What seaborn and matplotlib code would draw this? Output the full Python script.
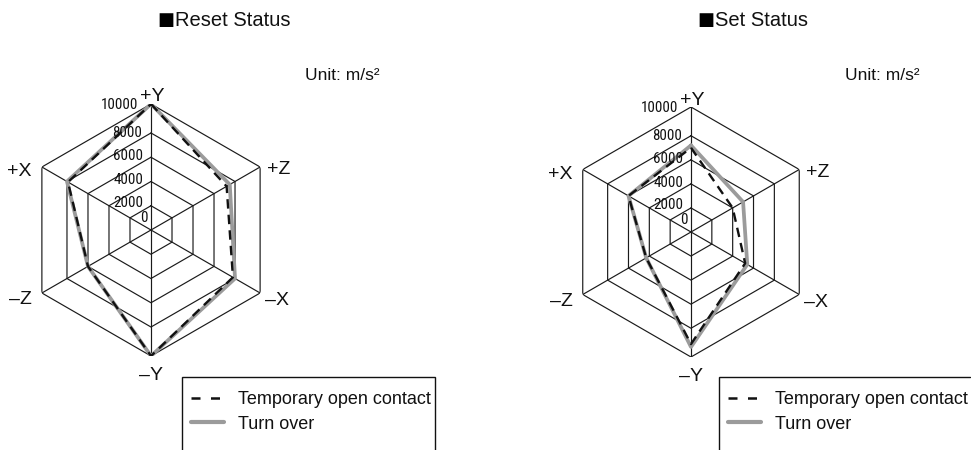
import numpy as np
import matplotlib
matplotlib.use("Agg")
import matplotlib.pyplot as plt
import seaborn as sns
from matplotlib.lines import Line2D
from matplotlib import font_manager

# axes of the hexagon, clockwise from the top
directions = ["+Y", "+Z", "–X", "–Y", "–Z", "+X"]
angles_deg = [0, 60, 120, 180, 240, 300]
ring_levels = [2000, 4000, 6000, 8000, 10000]
tick_values = [0, 2000, 4000, 6000, 8000, 10000]

# values in m/s^2, order as directions
reset_open = [10000, 7200, 7800, 10000, 6000, 7900]
reset_turn = [10000, 7500, 8000, 10000, 6000, 8000]
set_open = [7000, 4000, 5200, 9100, 4300, 6000]
set_turn = [7200, 5000, 5400, 9300, 4300, 6000]

series_labels = ["Temporary open contact", "Turn over"]

sns.set_style("white")
plt.rcParams["font.family"] = ["Liberation Sans", "DejaVu Sans"]
plt.rcParams["text.color"] = "#111111"

# narrow face for the radial numbers, if one is installed
names = {f.name for f in font_manager.fontManager.ttflist}
narrow = next((n for n in ["Liberation Sans Narrow", "Arial Narrow", "Roboto Condensed",
                           "Open Sans Condensed", "Noto Sans Condensed"] if n in names), None)
dv_cond = any(f.name == "DejaVu Sans" and f.stretch == "condensed"
              for f in font_manager.fontManager.ttflist)
if narrow:
    tick_font = dict(family=[narrow], fontsize=10.8)
elif dv_cond:
    tick_font = dict(family=["DejaVu Sans"], fontstretch="condensed", fontsize=9.5)
else:
    tick_font = dict(family=["Liberation Sans"], fontsize=9.5)

W, H = 971, 450
fig = plt.figure(figsize=(W / 100, H / 100), dpi=100)


def fx(px):
    return px / W


def fy(py):
    return 1 - py / H


# the outer ring of the original drawing sits a little wider than the others
def fwd(r):
    return np.interp(r, [0, 8000, 10000, 20000], [0, 7700, 10000, 20000])


def inv(r):
    return np.interp(r, [0, 7700, 10000, 20000], [0, 8000, 10000, 20000])


GRAY = "#9b9b9b"
DASH = (0, (4, 2.6))


def radar(cx, cy, rad, title, open_vals, turn_vals, title_x, unit_x, box_x, box_r, closed):
    ax = fig.add_axes([fx(cx - rad), fy(cy + rad), 2 * rad / W, 2 * rad / H],
                      projection="polar")
    ax.set_theta_zero_location("N")
    ax.set_theta_direction(-1)
    ax.set_rscale("function", functions=(fwd, inv))

    theta = np.deg2rad(angles_deg + [360])
    for lvl in ring_levels:
        ax.plot(theta, [lvl] * len(theta), color="#1a1a1a", lw=0.85,
                solid_joinstyle="miter", zorder=1)
    for a in np.deg2rad(angles_deg[:3]):
        ax.plot([a, a], [0, 10000], color="#1a1a1a", lw=0.85, zorder=1)
        ax.plot([a + np.pi, a + np.pi], [0, 10000], color="#1a1a1a", lw=0.85, zorder=1)

    sns.lineplot(x=theta, y=turn_vals + [turn_vals[0]], sort=False, estimator=None,
                 color=GRAY, linewidth=2.7, ax=ax, zorder=3)
    sns.lineplot(x=theta, y=open_vals + [open_vals[0]], sort=False, estimator=None,
                 color="#111111", linewidth=1.7, linestyle=DASH, ax=ax, zorder=4)

    ax.set_rlim(0, 10000)
    ax.grid(False)
    ax.set_xticks([])
    ax.set_yticks([])
    ax.set_xlabel("")
    ax.set_ylabel("")
    ax.spines["polar"].set_visible(False)
    ax.patch.set_alpha(0)

    # direction labels
    offsets = {"+Y": (1, 7, "center"), "+Z": (7, -3, "left"), "–X": (5, -8, "left"),
               "–Y": (0, -20, "center"), "–Z": (-10, -7, "right"), "+X": (-10, -5, "right")}
    for name, a in zip(directions, angles_deg):
        dx, dy, ha = offsets[name]
        ax.annotate(name, (np.deg2rad(a), 10000), xytext=(dx, dy),
                    textcoords="offset pixels", ha=ha, va="center", fontsize=14,
                    annotation_clip=False)

    # radial tick labels
    tick_off = {0: (-3, 12), 2000: (-8, 3), 4000: (-8, 1), 6000: (-8, 1),
                8000: (-9, 0), 10000: (-13, -1)}
    for v in tick_values:
        dx, dy = tick_off[v]
        ax.annotate(str(v), (0, v), xytext=(dx, dy), textcoords="offset pixels",
                    ha="right", va="center", annotation_clip=False, zorder=5,
                    **tick_font)

    fig.text(fx(title_x), fy(20), "■", ha="right", va="center", fontsize=13,
             family=["DejaVu Sans"], color="black")
    fig.text(fx(title_x + 1), fy(20), title, ha="left", va="center", fontsize=14.5)
    fig.text(fx(unit_x), fy(75), "Unit: m/s²", ha="left", va="center", fontsize=12.5)

    # legend box, open at the bottom (and at the right when it reaches the edge)
    xs = [box_x, box_x, box_r]
    ys = [H, 377, 377]
    if closed:
        xs.append(box_r)
        ys.append(H)
    fig.add_artist(Line2D([fx(x) for x in xs], [fy(y) for y in ys],
                          transform=fig.transFigure, color="#111111", lw=1.0,
                          solid_joinstyle="miter"))
    handles = [Line2D([], [], color="#111111", lw=1.8, linestyle=(0, (3.6, 4.2))),
               Line2D([], [], color=GRAY, lw=3.0)]
    fig.legend(handles, series_labels, loc="upper left",
               bbox_to_anchor=(fx(box_x + 9), fy(391)), borderaxespad=0,
               borderpad=0, fontsize=13, frameon=False, handlelength=1.8,
               handletextpad=0.8, labelspacing=0.42)
    return ax


radar(151, 230, 126, "Reset Status", reset_open, reset_turn, 174, 305, 182, 435, True)
radar(691, 232, 125, "Set Status", set_open, set_turn, 714, 845, 719, W - 1, False)

fig.savefig("out.png", dpi=100)
